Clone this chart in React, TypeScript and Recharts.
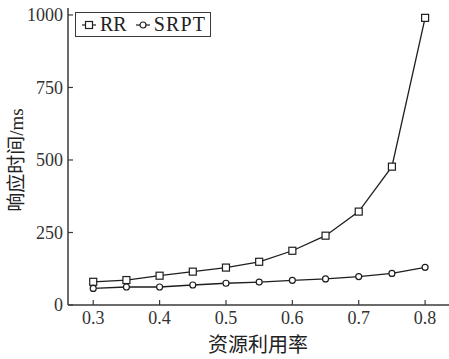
import { Legend, Line, LineChart, XAxis, YAxis } from "recharts";

const utilization = [0.3, 0.35, 0.4, 0.45, 0.5, 0.55, 0.6, 0.65, 0.7, 0.75, 0.8];
const rrTimes = [80, 86, 101, 115, 129, 149, 187, 239, 322, 477, 990];
const srptTimes = [57, 62, 62, 69, 75, 79, 85, 90, 98, 109, 130];
const xTicks = [0.3, 0.4, 0.5, 0.6, 0.7, 0.8];
const yTicks = [0, 250, 500, 750, 1000];

const data = utilization.map((u, i) => ({ u, rr: rrTimes[i], srpt: srptTimes[i] }));

const INK = "#1e1e1e";
const AXIS = "#3a3a3a";
const FONT = "'Liberation Serif', 'DejaVu Serif', 'Noto Sans CJK SC', serif";
const TICK_MARGIN = 5;

const tickText = { fontFamily: FONT, fontSize: 18 };

function XTick({ x, y, payload }: any) {
  const ay = y - TICK_MARGIN;
  return (
    <g>
      <line x1={x} x2={x} y1={ay} y2={ay - 5} stroke={AXIS} strokeWidth={1.2} />
      <text x={x} y={y + 1} dy="0.72em" textAnchor="middle" style={tickText} fill="#333">
        {payload.value}
      </text>
    </g>
  );
}

function YTick({ x, y, payload }: any) {
  const ax = x + TICK_MARGIN;
  return (
    <g>
      <line x1={ax} x2={ax + 5} y1={y} y2={y} stroke={AXIS} strokeWidth={1.2} />
      <text x={x} y={y} dy="0.35em" textAnchor="end" style={tickText} fill="#333">
        {payload.value}
      </text>
    </g>
  );
}

function SquareDot({ cx, cy, index }: any) {
  return (
    <rect key={index} x={cx - 3.5} y={cy - 3.5} width={7} height={7} fill="#fff" stroke={INK} strokeWidth={1.2} />
  );
}

function LegendBox() {
  return (
    <div
      style={{
        display: "flex",
        alignItems: "center",
        border: `1.5px solid ${AXIS}`,
        background: "#fff",
        padding: "0 4px 0 6px",
        height: 23,
        fontFamily: FONT,
        fontSize: 20,
        color: "#222",
        whiteSpace: "nowrap"
      }}
    >
      <svg width={14} height={10}>
        <line x1={0} x2={14} y1={5} y2={5} stroke={INK} strokeWidth={1.2} />
        <rect x={3.5} y={1.5} width={7} height={7} fill="#fff" stroke={INK} strokeWidth={1.2} />
      </svg>
      <span style={{ marginLeft: 4, marginRight: 9 }}>RR</span>
      <svg width={14} height={10}>
        <line x1={0} x2={14} y1={5} y2={5} stroke={INK} strokeWidth={1.2} />
        <circle cx={7} cy={5} r={3} fill="#fff" stroke={INK} strokeWidth={1.2} />
      </svg>
      <span style={{ marginLeft: 4, letterSpacing: 1.2 }}>SRPT</span>
    </div>
  );
}

export default function App() {
  return (
    <div style={{ position: "absolute", left: 0, top: 0, width: 449, height: 359, background: "#fff" }}>
      <LineChart width={449} height={359} data={data} margin={{ top: 8, right: 0, bottom: 0, left: 0 }}>
        <XAxis
          dataKey="u"
          type="number"
          domain={[0.262, 0.836]}
          ticks={xTicks}
          height={54}
          stroke={AXIS}
          strokeWidth={1.5}
          tickLine={false}
          tickSize={0}
          tickMargin={TICK_MARGIN}
          tick={<XTick />}
          label={{
            content: () => (
              <text
                x={258}
                y={345}
                textAnchor="middle"
                dominantBaseline="central"
                style={{ fontFamily: FONT, fontSize: 20 }}
                fill="#222"
              >
                资源利用率
              </text>
            )
          }}
        />
        <YAxis
          type="number"
          domain={[0, 1024]}
          ticks={yTicks}
          width={68}
          stroke={AXIS}
          strokeWidth={1.5}
          tickLine={false}
          tickSize={0}
          tickMargin={TICK_MARGIN}
          tick={<YTick />}
          label={{
            content: () => (
              <text
                transform="translate(16,160) rotate(-90)"
                textAnchor="middle"
                dominantBaseline="central"
                style={{ fontFamily: FONT, fontSize: 19 }}
                fill="#222"
              >
                响应时间/ms
              </text>
            )
          }}
        />
        <Legend
          layout="vertical"
          align="center"
          verticalAlign="middle"
          wrapperStyle={{ left: 75, top: 12, width: "auto", height: "auto" }}
          content={<LegendBox />}
        />
        <Line
          dataKey="rr"
          name="RR"
          stroke={INK}
          strokeWidth={1.3}
          dot={<SquareDot />}
          activeDot={false}
          isAnimationActive={false}
        />
        <Line
          dataKey="srpt"
          name="SRPT"
          stroke={INK}
          strokeWidth={1.3}
          dot={{ r: 3, fill: "#fff", stroke: INK, strokeWidth: 1.2 }}
          activeDot={false}
          isAnimationActive={false}
        />
      </LineChart>
    </div>
  );
}
